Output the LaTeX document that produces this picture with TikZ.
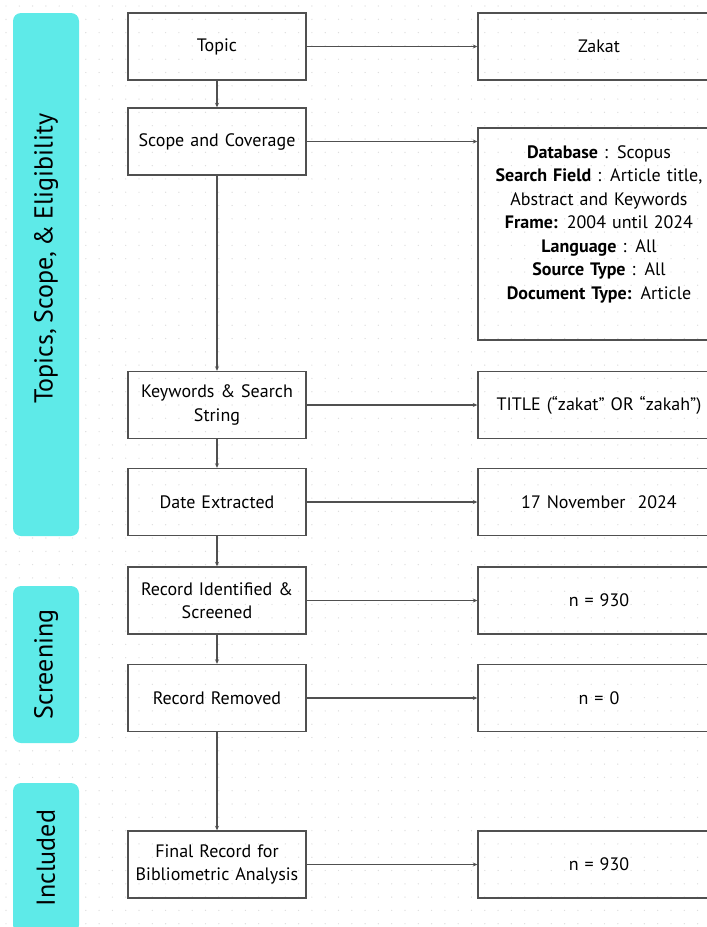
\documentclass[tikz,border=0pt]{standalone}
\usepackage{fontspec}
\setmainfont[WordSpace=0.75]{PT Sans}
\usetikzlibrary{arrows.meta}

\definecolor{bandcyan}{RGB}{94,234,232}
\definecolor{boxline}{RGB}{80,80,80}
\definecolor{griddot}{RGB}{222,222,222}

\tikzset{
  band/.style={fill=bandcyan, rounded corners=8pt, rotate=90, inner sep=0pt,
    minimum height=66pt, font=\fontsize{26}{30}\selectfont},
  leftbox/.style={draw=boxline, line width=1.4pt, minimum width=178pt,
    minimum height=67pt, text width=176pt, align=center, inner sep=0pt,
    font=\fontsize{18}{23.5}\selectfont},
  rightbox/.style={leftbox, minimum width=242pt, text width=238pt},
  flow/.style={draw=boxline, line width=1.3pt, -{Stealth[length=4.5pt,width=4pt]}},
}

\begin{document}
\begin{tikzpicture}[x=1pt,y=1pt]
		\useasboundingbox (0,0) rectangle (707,-927);
		\clip (0,0) rectangle (707,-927);
		% dotted background
		\foreach \x in {6,19.3,...,707}
			\foreach \y in {-6,-19.3,...,-927}
				\fill [griddot] (\x,\y) circle (0.7pt);
		%
		\node [band, minimum width=523pt] (bandtopic) at (46,-274.5) {\hspace*{32pt}Topics, Scope, \& Eligibility};
		\node [band, minimum width=157pt] (bandscreen) at (46,-664.5) {Screening};
		\node [band, minimum width=150pt] (bandinc) at (46,-858) {Included};
		%
		\node [leftbox] (topic) at (217,-46.5) {Topic};
		\node [leftbox] (scope) at (217,-141.5) {Scope and Coverage};
		\node [leftbox] (keywords) at (217,-405) {Keywords \& Search\\String};
		\node [leftbox] (date) at (217,-502) {Date Extracted};
		\node [leftbox] (recid) at (217,-600.5) {Record Identified \&\\Screened};
		\node [leftbox] (recrem) at (217,-698) {Record Removed};
		\node [leftbox] (final) at (217,-864.5) {Final Record for\\Bibliometric Analysis};
		%
		\node [rightbox] (zakat) at (599,-46.5) {Zakat};
		\node [rightbox, minimum height=212pt] (database) at (599,-234) {%
			\textbf{Database} : Scopus\\
			\textbf{Search Field} : Article title,\\
			Abstract and Keywords\\
			\textbf{Frame:} 2004 until 2024\\
			\textbf{Language} : All\\
			\textbf{Source Type} : All\\
			\textbf{Document Type:} Article\\ \mbox{}};
		\node [rightbox] (query) at (599,-405) {TITLE (“zakat” OR “zakah”)};
		\node [rightbox] (datevalue) at (599,-502) {17 November\ \ 2024};
		\node [rightbox] (nident) at (599,-600.5) {n = 930};
		\node [rightbox] (nremoved) at (599,-698) {n = 0};
		\node [rightbox] (nfinal) at (599,-864.5) {n = 930};
		%
		\draw [flow] (topic) -- (scope);
		\draw [flow] (scope) -- (keywords);
		\draw [flow] (keywords) -- (date);
		\draw [flow] (date) -- (recid);
		\draw [flow] (recid) -- (recrem);
		\draw [flow] (recrem) -- (final);
		%
		\draw [flow] (topic) -- (zakat);
		\draw [flow] (scope.east) -- (scope.east -| database.west);
		\draw [flow] (keywords) -- (query);
		\draw [flow] (date) -- (datevalue);
		\draw [flow] (recid) -- (nident);
		\draw [flow] (recrem) -- (nremoved);
		\draw [flow] (final) -- (nfinal);
	\end{tikzpicture}
\end{document}
